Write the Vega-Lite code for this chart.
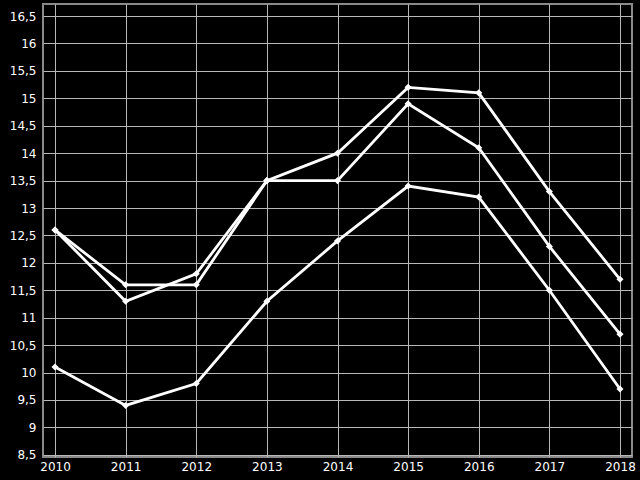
{
  "$schema": "https://vega.github.io/schema/vega-lite/v6.json",
  "width": 589,
  "height": 453,
  "autosize": "none",
  "padding": {"left": 43, "top": 4, "right": 8, "bottom": 23},
  "background": "#000000",
  "config": {
    "view": {"stroke": "#8a8a8a", "strokeWidth": 2},
    "axis": {
      "labelColor": "#ffffff",
      "labelFont": "DejaVu Sans",
      "labelFontSize": 12,
      "gridColor": "#b8b8b8",
      "gridWidth": 1,
      "gridOpacity": 1,
      "domain": false,
      "ticks": false,
      "title": null
    }
  },
  "data": {
    "values": [
      {"year": 2010, "s": "A", "v": 12.6},
      {"year": 2011, "s": "A", "v": 11.6},
      {"year": 2012, "s": "A", "v": 11.6},
      {"year": 2013, "s": "A", "v": 13.5},
      {"year": 2014, "s": "A", "v": 14.0},
      {"year": 2015, "s": "A", "v": 15.2},
      {"year": 2016, "s": "A", "v": 15.1},
      {"year": 2017, "s": "A", "v": 13.3},
      {"year": 2018, "s": "A", "v": 11.7},
      {"year": 2010, "s": "B", "v": 12.6},
      {"year": 2011, "s": "B", "v": 11.3},
      {"year": 2012, "s": "B", "v": 11.8},
      {"year": 2013, "s": "B", "v": 13.5},
      {"year": 2014, "s": "B", "v": 13.5},
      {"year": 2015, "s": "B", "v": 14.9},
      {"year": 2016, "s": "B", "v": 14.1},
      {"year": 2017, "s": "B", "v": 12.3},
      {"year": 2018, "s": "B", "v": 10.7},
      {"year": 2010, "s": "C", "v": 10.1},
      {"year": 2011, "s": "C", "v": 9.4},
      {"year": 2012, "s": "C", "v": 9.8},
      {"year": 2013, "s": "C", "v": 11.3},
      {"year": 2014, "s": "C", "v": 12.4},
      {"year": 2015, "s": "C", "v": 13.4},
      {"year": 2016, "s": "C", "v": 13.2},
      {"year": 2017, "s": "C", "v": 11.5},
      {"year": 2018, "s": "C", "v": 9.7}
    ]
  },
  "encoding": {
    "x": {
      "field": "year",
      "type": "quantitative",
      "scale": {"domain": [2009.83, 2018.17], "nice": false, "zero": false},
      "axis": {"values": [2010, 2011, 2012, 2013, 2014, 2015, 2016, 2017, 2018], "format": "d", "labelPadding": 4}
    },
    "y": {
      "field": "v",
      "type": "quantitative",
      "scale": {"domain": [8.46, 16.72], "nice": false, "zero": false},
      "axis": {
        "values": [8.5, 9, 9.5, 10, 10.5, 11, 11.5, 12, 12.5, 13, 13.5, 14, 14.5, 15, 15.5, 16, 16.5],
        "labelExpr": "replace(toString(datum.value), '.', ',')",
        "labelPadding": 7
      }
    },
    "detail": {"field": "s", "type": "nominal"}
  },
  "layer": [
    {"mark": {"type": "line", "color": "#ffffff", "strokeWidth": 2.8}},
    {"mark": {"type": "point", "shape": "diamond", "filled": true, "color": "#ffffff", "size": 50, "opacity": 1}}
  ]
}
